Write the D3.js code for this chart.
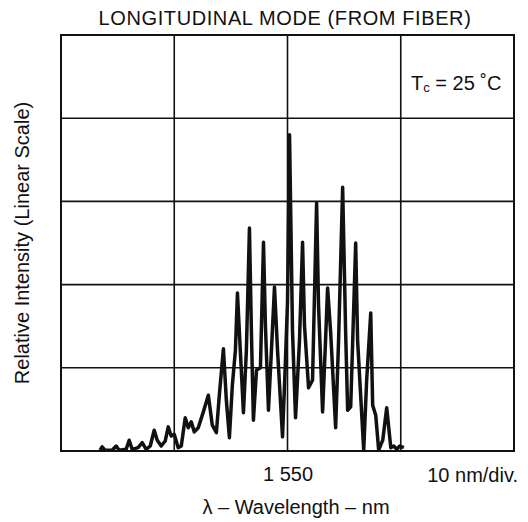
<!DOCTYPE html>
<html>
<head>
<meta charset="utf-8">
<script src="https://cdn.jsdelivr.net/npm/d3@7"></script>
<style>
  html, body { margin: 0; padding: 0; background: #fff; }
  svg text { font-family: "Liberation Sans", Arial, Helvetica, sans-serif; fill: #111; }
</style>
</head>
<body>
<svg id="chart" width="528" height="522"></svg>
<script>
// ---- data ----
const title = "LONGITUDINAL MODE (FROM FIBER)";
const xLabel = "λ – Wavelength – nm";
const yLabel = "Relative Intensity (Linear Scale)";
const xTickValues = [1550];
const xTickLabels = ["1 550"];
const xGridValues = [1540, 1550, 1560];
const yGridValues = [1, 2, 3, 4];
const scaleNote = "10 nm/div.";
const wavelength = [
  1533.45, 1533.63, 1533.89, 1534.51, 1534.87, 1535.13, 1535.75, 1536.02, 1536.28, 1536.81,
  1537.17, 1537.52, 1537.88, 1538.23, 1538.50, 1538.85, 1539.20, 1539.47, 1539.73, 1540.00,
  1540.35, 1540.62, 1540.97, 1541.24, 1541.50, 1541.77, 1542.12, 1542.57, 1543.01, 1543.36,
  1543.72, 1543.98, 1544.34, 1544.60, 1544.87, 1545.13, 1545.40, 1545.58, 1545.84, 1546.11,
  1546.37, 1546.64, 1546.81, 1546.99, 1547.26, 1547.61, 1547.88, 1548.05, 1548.32, 1548.58,
  1548.85, 1549.12, 1549.56, 1549.82, 1550.00, 1550.18, 1550.44, 1550.71, 1551.06, 1551.33,
  1551.50, 1551.86, 1552.21, 1552.57, 1552.74, 1553.10, 1553.36, 1553.54, 1553.81, 1554.25,
  1554.51, 1554.87, 1555.13, 1555.31, 1555.58, 1556.02, 1556.19, 1556.73, 1556.99, 1557.35,
  1557.52, 1557.79, 1558.05, 1558.41, 1558.76, 1559.12, 1559.38, 1559.65, 1559.91, 1560.27
];
const intensity = [
  0.01, 0.05, 0.01, 0.01, 0.06, 0.01, 0.02, 0.13, 0.02, 0.04,
  0.10, 0.02, 0.06, 0.25, 0.13, 0.06, 0.12, 0.29, 0.18, 0.20,
  0.04, 0.06, 0.40, 0.28, 0.35, 0.23, 0.28, 0.47, 0.67, 0.31,
  0.22, 0.67, 1.23, 0.61, 0.16, 0.79, 1.21, 1.90, 1.19, 0.46,
  1.21, 2.68, 1.45, 0.37, 0.97, 1.00, 2.51, 1.51, 0.49, 1.21,
  1.97, 1.21, 0.17, 1.09, 1.79, 3.80, 1.45, 0.40, 1.33, 2.51,
  1.51, 0.76, 0.85, 2.98, 1.75, 0.47, 1.33, 1.96, 1.43, 0.28,
  1.33, 3.17, 1.45, 0.49, 0.53, 2.50, 1.33, 0.01, 0.85, 1.66,
  0.55, 0.43, 0.01, 0.13, 0.52, 0.04, 0.06, 0.02, 0.06, 0.04
];

// ---- layout ----
const svg = d3.select("#chart");
const L = 61, R = 514, T = 35, B = 451;
const x = d3.scaleLinear().domain([1530, 1570]).range([L, R]);
const y = d3.scaleLinear().domain([0, 5]).range([B, T]);
const ink = "#111";

// grid
svg.append("g").selectAll("line").data(xGridValues).join("line")
  .attr("x1", d => x(d)).attr("x2", d => x(d))
  .attr("y1", T).attr("y2", B)
  .attr("stroke", ink).attr("stroke-width", 1.6);
svg.append("g").selectAll("line").data(yGridValues).join("line")
  .attr("x1", L).attr("x2", R)
  .attr("y1", d => y(d)).attr("y2", d => y(d))
  .attr("stroke", ink).attr("stroke-width", 1.6);

// frame
svg.append("rect").attr("x", L).attr("y", T)
  .attr("width", R - L).attr("height", B - T)
  .attr("fill", "none").attr("stroke", ink).attr("stroke-width", 2);

// spectrum
const pts = wavelength.map((w, i) => [w, intensity[i]]);
svg.append("path").datum(pts)
  .attr("d", d3.line().x(d => x(d[0])).y(d => y(d[1])))
  .attr("fill", "none").attr("stroke", ink)
  .attr("stroke-width", 3.5).attr("stroke-linejoin", "round");

// x tick labels (via axis)
const xAxis = d3.axisBottom(x).tickValues(xTickValues)
  .tickFormat((d, i) => xTickLabels[i]).tickSize(0).tickPadding(0);
const ax = svg.append("g").attr("transform", `translate(0,${B + 16})`).call(xAxis);
ax.select(".domain").remove();
ax.selectAll("text").attr("font-size", 20).attr("fill", ink)
  .attr("font-family", '"Liberation Sans", Arial, sans-serif');

svg.append("text").attr("x", 518).attr("y", 482)
  .attr("text-anchor", "end").attr("font-size", 20).text(scaleNote);

// axis titles
svg.append("text").attr("x", 296).attr("y", 514)
  .attr("text-anchor", "middle").attr("font-size", 20).text(xLabel);
svg.append("text")
  .attr("transform", `translate(29,${(T + B) / 2}) rotate(-90)`)
  .attr("text-anchor", "middle").attr("font-size", 20).text(yLabel);

// title
svg.append("text").attr("x", 285).attr("y", 25)
  .attr("text-anchor", "middle").attr("font-size", 20)
  .attr("letter-spacing", 0.6).text(title);

// annotation Tc = 25 °C
const tc = svg.append("text").attr("x", 411).attr("y", 90).attr("font-size", 20);
tc.append("tspan").text("T");
tc.append("tspan").attr("font-size", 13).attr("dy", 2).text("c");
tc.append("tspan").attr("dy", -2).text(" = 25 ˚C");
</script>
</body>
</html>
